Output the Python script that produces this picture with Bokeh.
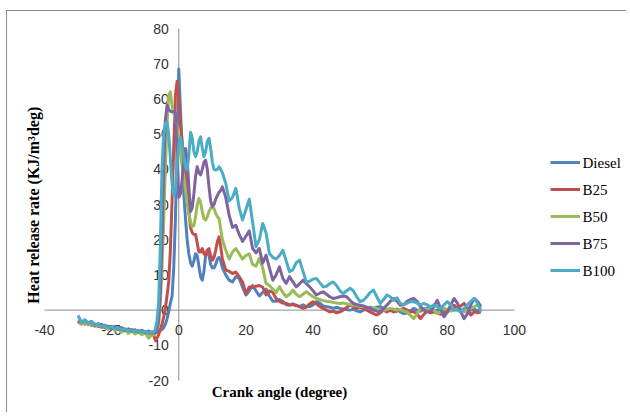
import math
from bokeh.plotting import figure
from bokeh.models import Range1d, Legend, LegendItem, Label, ColumnDataSource
from bokeh.core.properties import value
from bokeh.embed import file_html
from bokeh.resources import INLINE

# ---------------- data ----------------
angle = [-30, -29, -28, -27, -26, -25, -24, -23, -22, -21, -20, -19, -18, -17, -16, -15, -14, -13, -12, -11, -10, -9, -8,
         -7.5, -7, -6.5, -6, -5.5, -5, -4.5, -4, -3.5, -3, -2.5, -2, -1.5, -1, -0.5, 0, 0.5, 1, 1.5, 2, 2.5, 3, 3.5, 4,
         4.5, 5, 5.5, 6, 6.5, 7, 7.5, 8, 8.5, 9, 9.5, 10, 10.5, 11, 11.5, 12, 12.5, 13,
         14, 15, 16, 17, 18, 19, 20, 21, 22, 23, 24, 25, 26, 27, 28, 29, 30, 31, 32, 33, 34, 35, 36, 37, 38, 39,
         40, 41, 42, 43, 44, 45, 46, 47, 48, 49, 50, 51, 52, 53, 54, 55, 56, 57, 58, 59, 60, 61, 62, 63, 64, 65,
         66, 67, 68, 69, 70, 71, 72, 73, 74, 75, 76, 77, 78, 79, 80, 81, 82, 83, 84, 85, 86, 87, 88, 89, 90]

diesel = [-3.0, -3.5, -3.2, -3.8, -3.4, -4.0, -4.3, -4.0, -4.6, -4.9, -4.7, -5.2, -5.4, -5.1, -5.6, -5.8, -5.5, -5.9, -6.1, -5.8, -6.2, -6.0, -6.3,
          -6.2, -6.0, -6.3, -6.0, -5.8, -5.5, -5.0, -4.0, -2.5, -0.5,
          2, 4, 12, 26, 45, 68.5, 57, 46, 33, 26,
          20, 16, 13.5, 12.5, 14, 16, 15.5, 12.5, 9.5, 8.5,
          11, 15.5, 17, 15.5, 13, 12, 12, 13, 14.5, 15,
          14, 12,
          10, 8.5, 8, 9.5, 9, 6.5, 4.3, 5.5, 7, 5.5,
          4, 5, 6, 4, 2.5, 2.5, 3, 2.5, 1.5, 1.4,
          1.8, 1.2, 1, 1.5, 1, 1, 1.5, 2.4, 2, 1.2,
          1, 0.8, 0.5, 0.8, 0.5, 0.3, 0.2, 0, 0.3, -0.2,
          -0.5, 0, 0.5, 0.8, 0.5, 0.8, 1, 0.5, 0, 0.3,
          0, 0.3, -0.5, -1, -0.8, -0.2, 0.5, 0, -0.3, 0.3,
          0.5, 0, -0.5, 0, 0.3, 0, -0.5, 0.5, 0.8, 0.3,
          0, 0, -0.3, 0, 0.3, -0.2, 0]

b25 = [-3.8, -3.2, -4.0, -3.5, -4.3, -4.0, -4.7, -4.4, -5.0, -5.3, -5.0, -5.6, -5.3, -5.9, -5.6, -6.1, -5.9, -6.3, -6.0, -6.5, -6.2, -6.8, -6.5,
       -7, -8.5, -8, -7, -5.5, -4, -2, 0.5, 4, 8,
       17, 31, 46, 61, 65, 60, 53, 48, 43, 38.5,
       33, 28, 23.5, 22, 21.5, 21.5, 19, 16.5, 16.5, 17.5,
       16, 15.5, 17, 17.5, 15.5, 14.2, 15, 17, 19.5, 20.8,
       18, 14.5,
       11.4, 11, 10.4, 10.8, 9.5, 8, 4.7, 6.6, 6.5, 6.8,
       7, 6.5, 4.3, 5.5, 5, 3.3, 2.5, 2, 1.9, 1.5,
       1.5, 1.4, 1, 0.5, 0.8, 1.8, 2.4, 1.8, 1, 0.5,
       0, -0.5, -0.3, -0.8, -0.5, 0, 0.8, 1.4, 1, 0.5,
       0.8, 0.5, 0, -0.5, -1, -1.4, -0.8, 0, -0.5, 0,
       -0.5, -0.3, 0.2, 0.5, 0, -0.5, -0.5, -1, -2.4, -1.2,
       -0.3, -0.8, -0.5, -0.8, -1.2, -0.8, 0, 0.8, 1.4, 0.5,
       1.2, 1.9, 0.5, -1.4, -0.5, -0.8, -0.5]

b50 = [-3.3, -4.0, -3.5, -4.2, -3.8, -4.6, -4.2, -5.0, -4.6, -5.4, -5.0, -5.8, -5.3, -6.3, -5.6, -6.6, -5.9, -6.8, -6.2, -7.0, -6.4, -8.0, -7.0,
       -7, -6.5, -5.5, -4, 2, 12, 25, 40, 53, 61,
       62, 58, 56, 54, 52, 49, 45, 41, 38, 34,
       30, 27.5, 25, 23.7, 24, 26.5, 30, 31.7, 30.5, 28,
       26, 25.6, 26.5, 28, 29, 29, 28.9, 27.5, 26.5, 26,
       23, 20,
       17, 14.5, 16.5, 17.5, 16, 14.5, 15.5, 16, 13, 12.5,
       14.7, 12, 7.6, 7, 6, 5, 6.6, 5, 3.8, 4.5,
       5.7, 4.5, 3.8, 4.5, 5.2, 4.5, 3.8, 3.3, 3, 2.7,
       2.5, 2.4, 2.2, 2, 1.9, 2, 1.8, 1.6, 1.4, 1.3,
       1, 1, 0.8, 0.6, 0.5, 0.4, 0.2, 0, 0.2, 0.5,
       0.3, 0, 0.2, -0.3, -0.5, -1.5, -2.4, -1, 0.5, 0.3,
       0, 0.5, 0, -1, -0.5, 0.5, 0, -0.3, 0, 0.3,
       0, -0.5, 0, 0.5, 1, 1.4, 0.5]

b75 = [-3.0, -3.5, -2.8, -3.6, -3.2, -4.4, -3.8, -4.8, -4.3, -4.7, -5.2, -4.6, -5.5, -5.0, -5.8, -5.3, -6.0, -5.6, -6.2, -5.8, -6.4, -6.0, -6.5,
       -6.3, -6.5, -5.5, -3, 5, 20, 40, 54, 58.2, 57,
       56.5, 56.3, 56.5, 56, 44, 32, 33, 37, 43, 45.9,
       43, 35, 28, 29, 33, 38, 40.7, 39, 38.4, 40,
       42, 42.6, 40, 35, 31, 29.4, 30, 31.5, 32.5, 33.5,
       34, 35,
       32, 27, 23.5, 24.1, 21.5, 19.5, 21, 22.5, 17.5, 16.3,
       17.5, 13.3, 15.6, 12, 8.5, 10, 12.3, 9, 7.6, 9.5,
       8, 6.6, 7.5, 8.5, 7.5, 6.6, 5.5, 4.3, 4.8, 5.2,
       4.5, 3.8, 3.3, 3.5, 3.8, 4, 3.8, 2.8, 1.9, 1.6,
       1.4, 1.2, 0.8, 0.5, 0, -0.3, -0.5, 0.5, 1.4, 2.5,
       3.3, 2.5, 1.4, 1.5, 2.5, 3, 3.3, 2.5, 1, 0,
       -0.5, -0.3, 1, 2.8, 0.5, -1.9, -0.5, 1.5, 3.3, 2,
       -0.5, -2.4, -1, 1.5, 3.3, 2.5, 1]

b100 = [-1.5, -3.5, -2.8, -3.7, -3.3, -4.2, -3.9, -4.6, -4.3, -5.0, -4.7, -5.3, -5.0, -5.6, -5.3, -5.9, -5.6, -6.1, -5.8, -6.3, -6.0, -6.5, -6.2,
        -6.3, -5.5, -3, 2, 18, 40, 50, 53, 53.5, 50,
        43, 36, 32.5, 34, 41, 47, 49.2, 47, 43, 40.5,
        39.8, 44, 50.5, 49, 45, 43.6, 45, 48, 49.2, 46,
        43.6, 45, 48, 48.8, 46, 42, 40, 39.8, 40, 40.7,
        40, 39,
        36, 31, 32, 34.6, 29, 25.6, 28.5, 31.5, 25, 18,
        20, 24.6, 22, 16.1, 15, 14.5, 15.5, 17, 14, 10.9,
        11.5, 13.5, 14.2, 11, 8, 8.2, 8.8, 9, 7.8, 6.6,
        6.8, 7.5, 8, 7, 5.5, 4.7, 5.5, 6.2, 5.5, 3.8,
        2.4, 2.8, 3.8, 5, 5.7, 3.8, 1.9, 3, 4.3, 3.8,
        2.8, 3.5, 1.9, 1.5, 2, 2.4, 2.4, 2, 1.5, 1.9,
        1.5, 0.8, 1.5, 1, 0.5, 1.5, 2.4, 1.5, 0, 0,
        -0.5, 0.5, 1.5, 2.5, 3.3, 2, -0.5]

series_names = ["Diesel", "B25", "B50", "B75", "B100"]
series_values = [diesel, b25, b50, b75, b100]
series_colors = ["#4F81BD", "#C0504D", "#9BBB59", "#8064A2", "#4BACC6"]

x_ticks = [-40, -20, 0, 20, 40, 60, 80, 100]
y_ticks = [-20, -10, 0, 10, 20, 30, 40, 50, 60, 70, 80]

x_title = "Crank angle (degree)"
y_title = "Heat release rate (KJ/m\u00b3deg)"

# ---------------- layout constants ----------------
W, H = 620, 402
X0, X1 = -51.02, 133.67
Y0, Y1 = -29.37, 84.83
sx = W / (X1 - X0)        # px per x unit
sy = H / (Y1 - Y0)        # px per y unit


def data_y(py):
    """canvas px from top -> data y"""
    return Y1 - py / sy


def data_x(px):
    """canvas px from left -> data x"""
    return X0 + px / sx


p = figure(width=W, height=H,
           x_range=Range1d(X0, X1), y_range=Range1d(Y0, Y1),
           x_axis_type=None, y_axis_type=None,
           output_backend="svg", toolbar_location=None,
           min_border=0, min_border_left=0, min_border_right=0,
           min_border_top=0, min_border_bottom=0)
p.outline_line_color = None
p.grid.visible = False
p.background_fill_color = "white"
p.border_fill_color = "white"
p.styles = {"margin-left": "6px", "margin-top": "10px",
            "border-left": "1px solid #8c8c8c", "border-top": "1px solid #8c8c8c"}

axis_col = "#8c8c8c"
# axes crossing at zero (Excel style)
p.line(x=[x_ticks[0], x_ticks[-1]], y=[0, 0], line_color=axis_col, line_width=1)
p.line(x=[0, 0], y=[y_ticks[0], y_ticks[-1]], line_color=axis_col, line_width=1)

# tick labels
p.text(x=x_ticks, y=[0] * len(x_ticks), text=[str(t) for t in x_ticks],
       y_offset=20, text_align="center", text_baseline="middle",
       text_font=value("Liberation Sans"), text_font_size="14px", text_color="#333333")
p.text(x=[0] * len(y_ticks), y=y_ticks, text=[str(t) for t in y_ticks],
       x_offset=-10, text_align="right", text_baseline="middle",
       text_font=value("Liberation Sans"), text_font_size="14px", text_color="#333333")

renderers = []
for name, vals, col in zip(series_names, series_values, series_colors):
    src = ColumnDataSource(dict(x=angle[:len(vals)], y=vals))
    r = p.line("x", "y", source=src, line_color=col, line_width=3, line_join="round")
    renderers.append(r)

# legend keys (Bokeh Legend) + legend texts (regular serif labels)
leg_left = 543            # canvas px of key start
leg_first = 151           # canvas px of first key centre
leg_step = 27
legend = Legend(items=[LegendItem(label=value(""), renderers=[r]) for r in renderers],
                location=(leg_left, H - (leg_first - 10) - (5 * 20 + 4 * 7)),
                glyph_width=30, glyph_height=20, label_height=20,
                spacing=7, padding=0, margin=0, label_standoff=0, label_width=0,
                border_line_color=None, background_fill_alpha=0)
p.add_layout(legend)
for i, n in enumerate(series_names):
    p.add_layout(Label(x=data_x(leg_left + 32), y=data_y(leg_first + i * leg_step), text=n,
                       text_align="left", text_baseline="middle",
                       text_font="'Liberation Serif'", text_font_style="normal",
                       text_font_size="15px", text_color="black"))

p.add_layout(Label(x=30, y=-23.3, text=x_title, text_align="center", text_baseline="middle",
                   text_font="'Liberation Serif'", text_font_style="bold", text_font_size="15px",
                   text_color="black"))
p.add_layout(Label(x=-43.4, y=29.8, text=y_title, angle=math.pi / 2, text_align="center",
                   text_baseline="middle", text_font="'Liberation Serif'", text_font_style="bold",
                   text_font_size="16px", text_color="black"))

open("out.html", "w").write(file_html(p, INLINE))
